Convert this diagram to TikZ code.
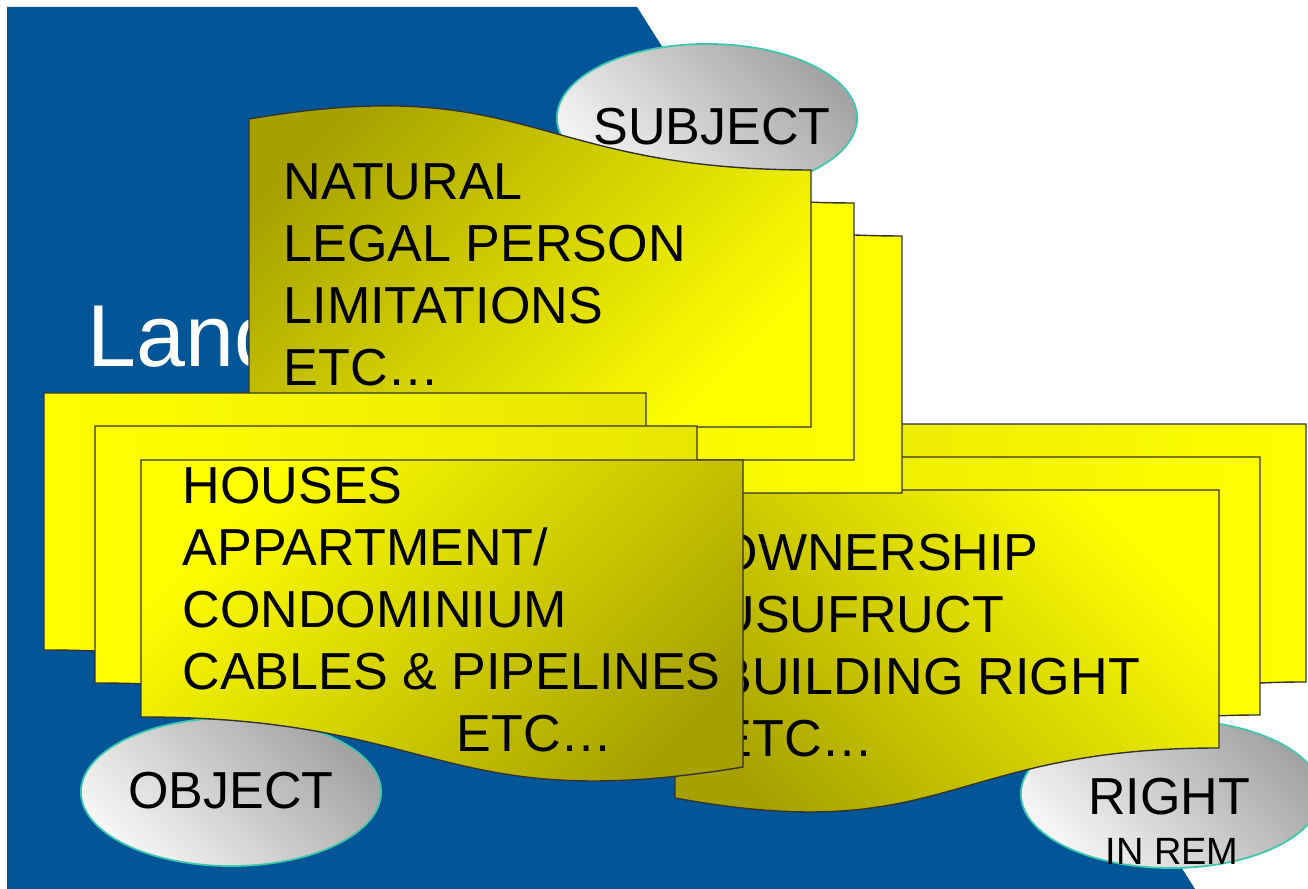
\documentclass[tikz,border=0pt]{standalone}
\usepackage{fontspec}
\setmainfont{Liberation Sans}
\usepackage[svgnames]{xcolor}
\usepackage{tikz}
\usetikzlibrary{shapes.geometric}
\definecolor{slideblue}{RGB}{2,86,152}
\definecolor{darkolive}{RGB}{166,160,0}
\definecolor{paleyellow}{RGB}{232,230,0}
\definecolor{lyellow}{RGB}{255,255,0}
\definecolor{bubblegray}{RGB}{163,163,163}
\definecolor{bubblelight}{RGB}{245,245,245}
\definecolor{bubbleline}{RGB}{60,200,170}
\tikzstyle{bubble}=[ellipse,draw=bubbleline,line width=0.5pt,top color=bubblegray,bottom color=bubblelight,shading angle=-45,minimum width=3cm,minimum height=1.48cm,inner sep=0pt]
\tikzstyle{card}=[draw=black!80,line width=0.4pt]
\tikzstyle{subjcard}=[card,top color=darkolive,bottom color=lyellow,shading angle=45]
\tikzstyle{objcard}=[card,top color=lyellow,bottom color=darkolive,shading angle=45]
\tikzstyle{remcard}=[card,top color=lyellow,bottom color=darkolive,shading angle=-45]
\tikzstyle{backcard}=[card,left color=paleyellow,right color=lyellow]
\tikzstyle{backcardl}=[card,left color=lyellow,right color=paleyellow]
\tikzstyle{cardtext}=[anchor=north west,inner sep=0pt,align=left,font=\fontsize{14.8}{17.64}\selectfont]
\tikzstyle{bubbletext}=[inner sep=0pt,font=\fontsize{14.8}{17.64}\selectfont]
\tikzstyle{smalltext}=[inner sep=0pt,font=\fontsize{10.8}{13}\selectfont]
\tikzstyle{landtext}=[anchor=base west,inner sep=0pt,text=white,font=\fontsize{25}{30}\selectfont]

\begin{document}
\begin{tikzpicture}[x=0.01cm,y=-0.01cm]
	\useasboundingbox (0,0) rectangle (1308,889);
	\fill [white] (0,0) rectangle (1308,889);
	% slide
	\fill [slideblue] (7,7) -- (637,7) -- (1195,889) -- (7,889) -- cycle;
	\node [style=landtext] (land) at (87,367) {Land};

	\node [style=bubble] (subject) at (707,118) {};
	\node [style=bubbletext] (subjecttxt) at (712,127) {SUBJECT};
	\node [style=bubble] (object) at (231,792) {};
	\node [style=bubbletext] (objecttxt) at (231,791) {OBJECT};
	\node [style=bubble] (rightinrem) at (1171,794) {};
	\node [style=bubbletext] (righttxt) at (1169,797) {RIGHT};
	\node [style=smalltext] (inremtxt) at (1172,851) {IN REM};

	% right in rem
	\draw [style=backcard,shift={(87,-66)}] (675,490) -- (1219,490) -- (1219,748) .. controls (947,748) and (947,848) .. (675,798) -- cycle;
	\draw [style=backcard,shift={(41,-33)}] (675,490) -- (1219,490) -- (1219,748) .. controls (947,748) and (947,848) .. (675,798) -- cycle;
	\draw [style=remcard] (675,490) -- (1219,490) -- (1219,748) .. controls (947,748) and (947,848) .. (675,798) -- cycle;
	\node [style=cardtext] (remlist) at (717,533) {OWNERSHIP\\USUFRUCT\\BUILDING RIGHT\\ETC…};

	% subject
	\draw [style=backcard,shift={(91,66)}] (249,119) .. controls (530,71) and (530,170) .. (811,170) -- (811,427) -- (249,427) -- cycle;
	\draw [style=backcard,shift={(43,33)}] (249,119) .. controls (530,71) and (530,170) .. (811,170) -- (811,427) -- (249,427) -- cycle;
	\draw [style=subjcard] (249,119) .. controls (530,71) and (530,170) .. (811,170) -- (811,427) -- (249,427) -- cycle;
	\node [style=cardtext] (subjlist) at (283,163) {NATURAL\\LEGAL PERSON\\LIMITATIONS\\ETC…};

	% object
	\draw [style=backcardl,shift={(-97,-67)}] (141,460) -- (743,460) -- (743,767) .. controls (442,817) and (442,717) .. (141,717) -- cycle;
	\draw [style=backcardl,shift={(-46,-34)}] (141,460) -- (743,460) -- (743,767) .. controls (442,817) and (442,717) .. (141,717) -- cycle;
	\draw [style=objcard] (141,460) -- (743,460) -- (743,767) .. controls (442,817) and (442,717) .. (141,717) -- cycle;
	\node [style=cardtext] (objlist) at (182,466) {HOUSES\\APPARTMENT/\\CONDOMINIUM\\CABLES \& PIPELINES\\\hspace*{2.74cm}ETC…};
\end{tikzpicture}
\end{document}
